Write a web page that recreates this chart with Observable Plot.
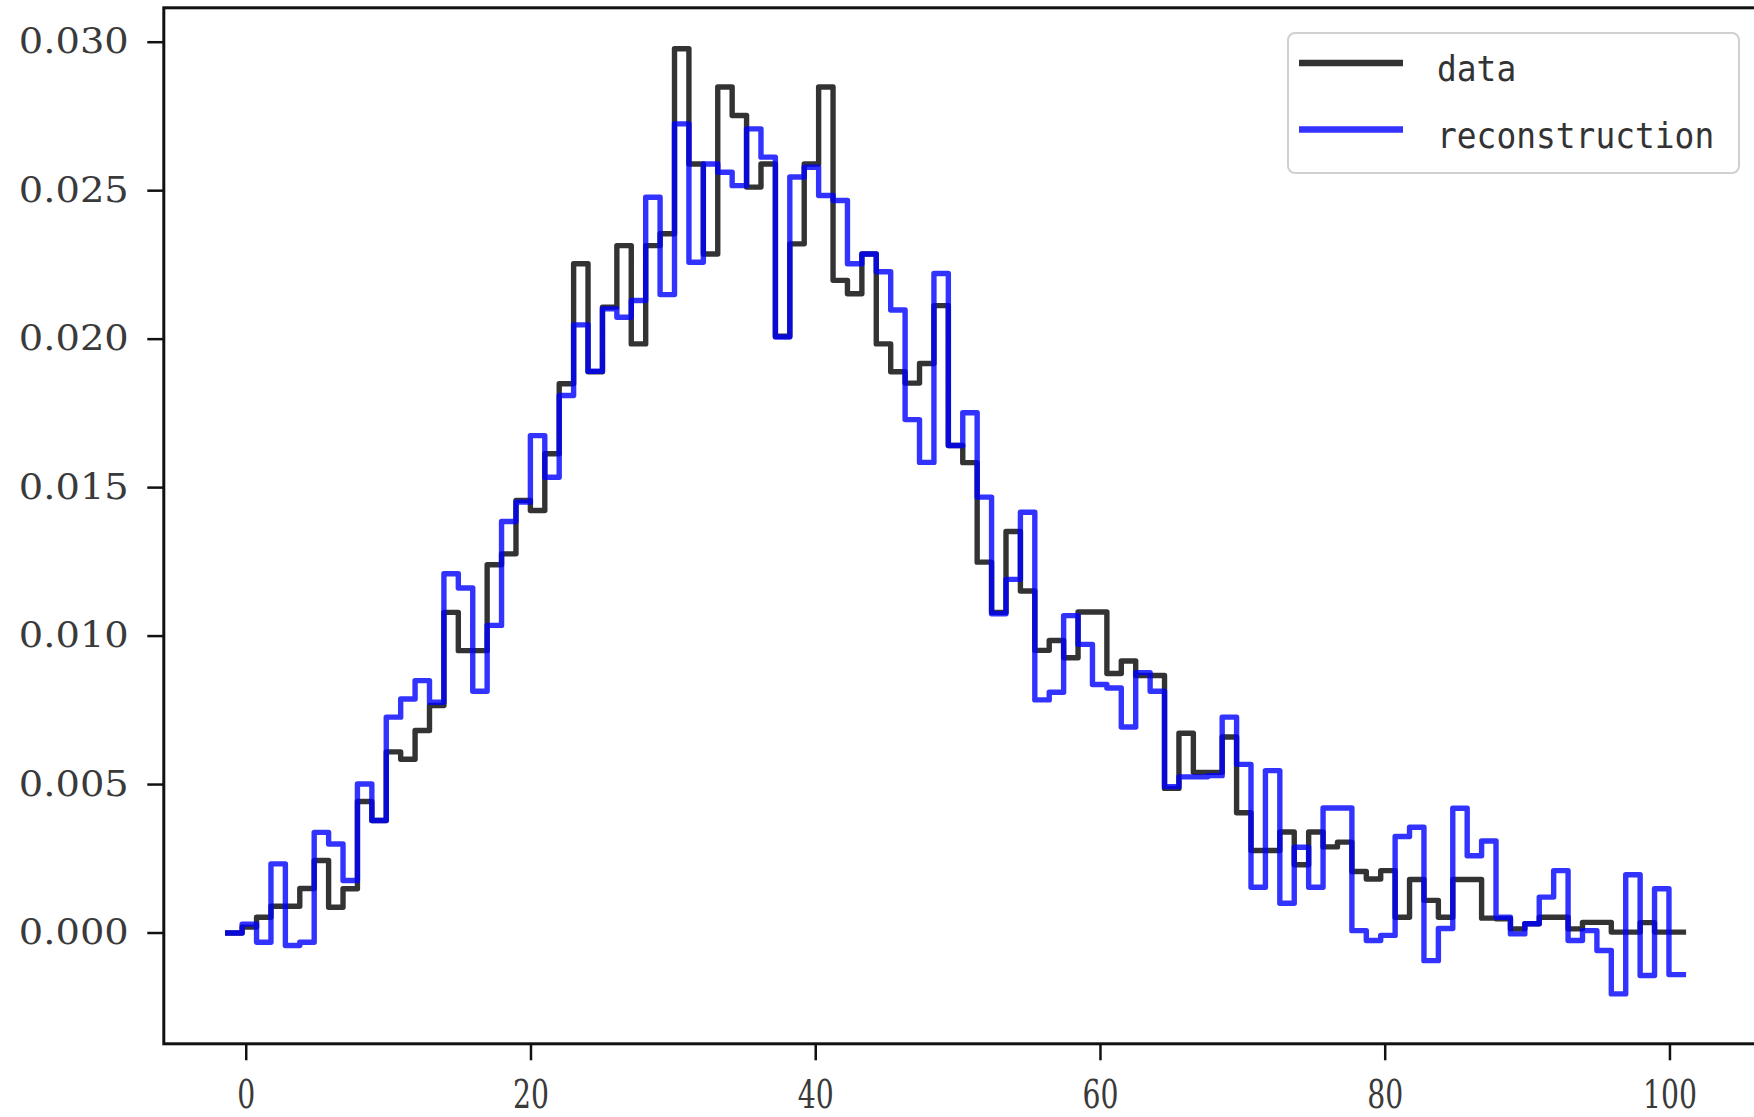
<!DOCTYPE html>
<html><head><meta charset="utf-8">
<script src="https://cdn.jsdelivr.net/npm/d3@7"></script>
<script src="https://cdn.jsdelivr.net/npm/@observablehq/plot@0.6"></script>
<style>
html,body{margin:0;padding:0;background:#fff;overflow:hidden;}
#wrap{position:relative;width:1754px;height:1117px;overflow:hidden;}
#wrap svg{max-width:none !important;display:block;}
#legend{position:absolute;left:1287px;top:32px;}
</style></head><body>
<div id="wrap"><div id="chart"></div><div id="legend"></div></div>
<script>
// histogram bins: first edge and width (x axis)
const binStart = -1.3;
const binWidth = 1.0123;
// series values, one per bin
const dataValues = [
0.00000,0.00020,0.00053,0.00090,0.00090,0.00150,0.00244,0.00087,0.00149,0.00443,
0.00379,0.00610,0.00585,0.00682,0.00766,0.01080,0.00951,0.00951,0.01240,0.01277,
0.01457,0.01423,0.01614,0.01850,0.02254,0.01890,0.02108,0.02315,0.01984,0.02315,
0.02355,0.02978,0.02590,0.02287,0.02849,0.02753,0.02512,0.02590,0.02010,0.02321,
0.02590,0.02849,0.02198,0.02153,0.02287,0.01984,0.01890,0.01852,0.01918,0.02113,
0.01642,0.01584,0.01249,0.01080,0.01352,0.01152,0.00952,0.00985,0.00927,0.01081,
0.01081,0.00874,0.00916,0.00867,0.00867,0.00487,0.00673,0.00541,0.00541,0.00660,
0.00405,0.00278,0.00278,0.00340,0.00230,0.00340,0.00290,0.00306,0.00207,0.00182,
0.00210,0.00053,0.00180,0.00110,0.00053,0.00180,0.00180,0.00050,0.00048,0.00014,
0.00031,0.00053,0.00053,0.00014,0.00036,0.00036,0.00003,0.00003,0.00035,0.00003,
0.00003];
const reconValues = [
0.00000,0.00030,-0.00031,0.00233,-0.00042,-0.00031,0.00339,0.00300,0.00177,0.00502,
0.00379,0.00727,0.00788,0.00850,0.00777,0.01210,0.01162,0.00814,0.01036,0.01386,
0.01451,0.01675,0.01535,0.01810,0.02048,0.01892,0.02102,0.02074,0.02130,0.02478,
0.02150,0.02725,0.02259,0.02590,0.02562,0.02517,0.02708,0.02613,0.02007,0.02546,
0.02579,0.02484,0.02467,0.02254,0.02287,0.02227,0.02098,0.01729,0.01585,0.02221,
0.01642,0.01752,0.01468,0.01075,0.01191,0.01417,0.00785,0.00811,0.01069,0.00972,
0.00837,0.00825,0.00694,0.00877,0.00814,0.00493,0.00526,0.00526,0.00530,0.00727,
0.00568,0.00154,0.00547,0.00100,0.00289,0.00154,0.00421,0.00421,0.00008,-0.00025,
-0.00008,0.00325,0.00356,-0.00093,0.00015,0.00420,0.00260,0.00310,0.00053,-0.00003,
0.00031,0.00121,0.00210,-0.00025,0.00008,-0.00059,-0.00205,0.00196,-0.00143,0.00149,
-0.00140];
const seriesNames = ["data", "reconstruction"];
const seriesColors = ["black", "blue"];
const xTicks = [0, 20, 40, 60, 80, 100];
const yTicks = [0, 0.005, 0.010, 0.015, 0.020, 0.025, 0.030];
const xDomain = [-5.79, 106.5];
const yDomain = [-0.003731, 0.031159];

function stepPoints(values, name) {
  const pts = [{x: binStart, y: values[0], series: name}];
  values.forEach((v, i) => pts.push({x: binStart + (i + 1) * binWidth, y: v, series: name}));
  return pts;
}
const rows = [...stepPoints(dataValues, seriesNames[0]), ...stepPoints(reconValues, seriesNames[1])];

const W = 1770, H = 1117;
const serif = "'DejaVu Serif', serif";
const chart = Plot.plot({
  width: W, height: H,
  marginLeft: 163.3, marginRight: 8, marginTop: 7.3, marginBottom: H - 1043.3,
  style: {background: "white", fontFamily: serif, overflow: "visible"},
  x: {domain: xDomain, label: null},
  y: {domain: yDomain, label: null},
  color: {domain: seriesNames, range: seriesColors},
  marks: [
    Plot.line(rows, {x: "x", y: "y", z: "series", stroke: "series", curve: "step-before",
      strokeWidth: 5.4, strokeOpacity: 0.8, strokeLinejoin: "round", strokeLinecap: "square"}),
    Plot.frame({stroke: "#111", strokeWidth: 3}),
    Plot.axisX({ticks: xTicks, tickSize: 17, tickPadding: 19, strokeWidth: 2.5, stroke: "#111",
      fontSize: 40, fill: "#3a3a3a", tickFormat: d => String(d)}),
    Plot.axisY({ticks: yTicks, tickSize: 16, tickPadding: 19, strokeWidth: 2.5, stroke: "#111",
      fontSize: 35, fill: "#3a3a3a", tickFormat: d3.format(".3f")})
  ]
});
document.getElementById("chart").appendChild(chart);
// stretch/condense tick labels to the reference's glyph proportions
d3.select(chart).selectAll('g[aria-label="y-axis tick label"] text')
  .attr("textLength", 110).attr("lengthAdjust", "spacingAndGlyphs");
d3.select(chart).selectAll('g[aria-label="x-axis tick label"] text')
  .each(function() { const t = this.textContent; d3.select(this).attr("textLength", t.length * 18).attr("lengthAdjust", "spacingAndGlyphs"); });

// legend
const lg = d3.select("#legend").append("svg").attr("width", 454).attr("height", 143);
lg.append("rect").attr("x", 1).attr("y", 1).attr("width", 451).attr("height", 140)
  .attr("rx", 7).attr("fill", "white").attr("fill-opacity", 0.8).attr("stroke", "#d0d0d0").attr("stroke-width", 2);
seriesNames.forEach((name, i) => {
  const cy = 31 + i * 66.6;
  lg.append("line").attr("x1", 12).attr("x2", 116).attr("y1", cy).attr("y2", cy)
    .attr("stroke", seriesColors[i]).attr("stroke-opacity", 0.8).attr("stroke-width", 6.5);
  lg.append("text").attr("x", 150).attr("y", cy + 18)
    .attr("font-family", "'DejaVu Sans Mono', monospace").attr("font-size", 36)
    .attr("fill", "#333")
    .attr("textLength", name.length * 19.8).attr("lengthAdjust", "spacingAndGlyphs")
    .text(name);
});
</script></body></html>
